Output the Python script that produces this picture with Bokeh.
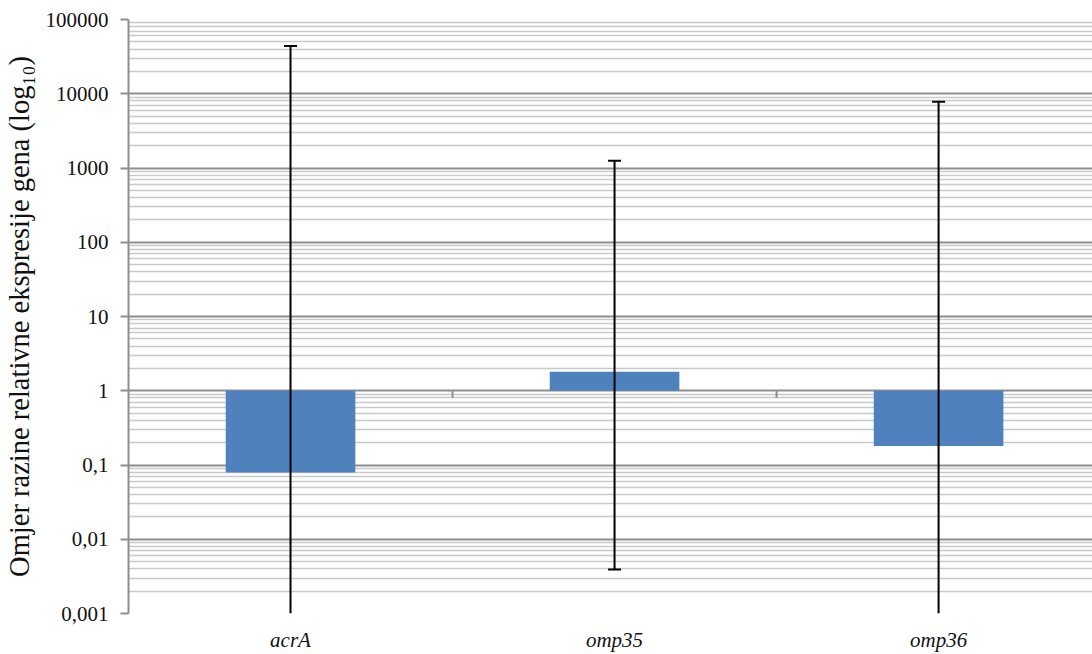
from bokeh.plotting import figure
from bokeh.models import Range1d, FixedTicker
from bokeh.embed import file_html
from bokeh.resources import INLINE

# ---- data ----
genes = ["acrA", "omp35", "omp36"]
ratios = [0.079, 1.8, 0.18]              # relative expression ratio (bar tops)
err_upper = [44000, 1250, 7800]          # upper end of the error bars
err_lower = [None, 0.0039, None]         # None: bar runs below the axis minimum

y_ticks = [0.001, 0.01, 0.1, 1, 10, 100, 1000, 10000, 100000]
y_tick_labels = ["0,001", "0,01", "0,1", "1", "10", "100", "1000", "10000", "100000"]

ylabel = "Omjer razine relativne ekspresije gena (log\u2081\u2080)"

BAR = "#4F81BD"
MAJ = "#8E8E8E"
MIN = "#C9C9C9"
FONT = "Liberation Serif"

y_min, y_max = y_ticks[0], y_ticks[-1]
n = len(genes)
xs = [i + 0.5 for i in range(n)]

p = figure(width=1092, height=654, y_axis_type="log",
           x_range=Range1d(0, 2.975), y_range=Range1d(y_min, y_max),
           output_backend="svg", toolbar_location=None,
           min_border_left=128, min_border_right=0,
           min_border_top=19, min_border_bottom=41)
p.outline_line_color = None
p.background_fill_color = "white"
p.border_fill_color = "white"

# minor gridlines at 2..9 x each decade
minor = []
for t in y_ticks[:-1]:
    for k in range(2, 10):
        minor.append(t * k)

yt = FixedTicker(ticks=y_ticks, minor_ticks=minor)
p.yaxis.ticker = yt
p.yaxis.major_label_overrides = {t: l for t, l in zip(y_ticks, y_tick_labels)}
p.yaxis.major_label_text_font = FONT
p.yaxis.major_label_text_font_size = "21px"
p.yaxis.major_label_text_color = "#111111"
p.yaxis.major_label_standoff = 12
p.yaxis.major_tick_out = 8
p.yaxis.major_tick_in = 0
p.yaxis.minor_tick_out = 0
p.yaxis.minor_tick_in = 0
p.yaxis.major_tick_line_color = MAJ
p.yaxis.major_tick_line_width = 2
p.yaxis.axis_line_color = MAJ
p.yaxis.axis_line_width = 2
p.yaxis.axis_label = ylabel
p.yaxis.axis_label_text_font = FONT
p.yaxis.axis_label_text_font_size = "28.5px"
p.yaxis.axis_label_text_font_style = "normal"
p.yaxis.axis_label_text_color = "#111111"
p.yaxis.axis_label_standoff = 8

p.ygrid.ticker = yt
p.ygrid.grid_line_color = MAJ
p.ygrid.grid_line_width = 2
p.ygrid.minor_grid_line_color = MIN
p.ygrid.minor_grid_line_width = 1.6
p.xgrid.grid_line_color = None

# category axis at the bottom (labels only)
p.xaxis.ticker = FixedTicker(ticks=xs)
p.xaxis.major_label_overrides = {x: g for x, g in zip(xs, genes)}
p.xaxis.major_label_text_font = FONT
p.xaxis.major_label_text_font_size = "21px"
p.xaxis.major_label_text_font_style = "italic"
p.xaxis.major_label_text_color = "#111111"
p.xaxis.major_label_standoff = 14
p.xaxis.major_tick_out = 0
p.xaxis.major_tick_in = 0
p.xaxis.minor_tick_line_color = None
p.xaxis.axis_line_color = None

# small category-boundary ticks on the value-1 line (x axis crosses at 1)
bounds = [i + 1 for i in range(n - 1)]
p.segment(x0=bounds, y0=[1] * len(bounds), x1=bounds, y1=[0.8] * len(bounds),
          line_color=MAJ, line_width=2)

# bars from 1 to ratio
p.vbar(x=xs, width=0.4, bottom=1, top=ratios, fill_color=BAR, line_color=None)

# error bars
lows = [v if v is not None else y_min for v in err_lower]
p.segment(x0=xs, y0=lows, x1=xs, y1=err_upper, line_color="black", line_width=2)
cap_x = list(xs)
cap_y = list(err_upper)
for x, v in zip(xs, err_lower):
    if v is not None:
        cap_x.append(x)
        cap_y.append(v)
p.scatter(x=cap_x, y=cap_y, marker="dash", size=13, line_color="black", line_width=2)

open("out.html", "w").write(file_html(p, INLINE))
